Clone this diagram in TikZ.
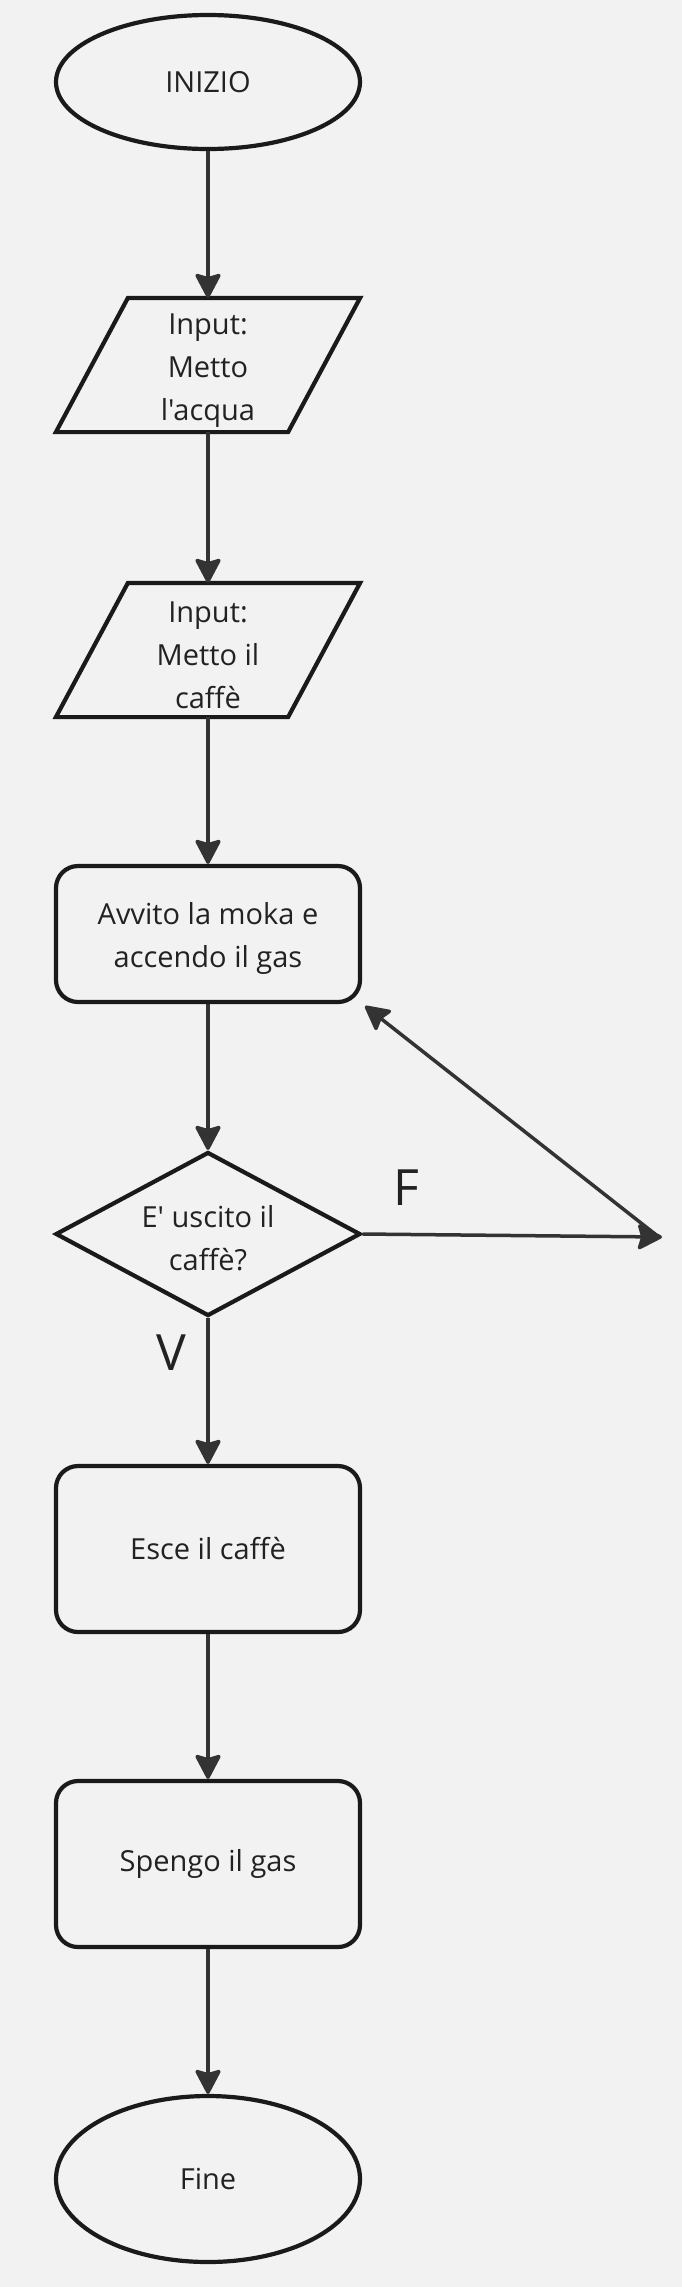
\documentclass[tikz,border=0pt]{standalone}
\usepackage{fontspec}
\newfontfamily\osans{Open Sans}
\usetikzlibrary{shapes.geometric,arrows.meta}
\definecolor{bg}{HTML}{F2F2F2}
\definecolor{edgec}{HTML}{1A1A1A}
\definecolor{connc}{HTML}{333333}
\definecolor{txt}{HTML}{222222}
\newcommand\tstr{\rule{0pt}{31pt}}
\begin{document}
\begin{tikzpicture}[x=1pt,y=1pt,
  box/.style={draw=edgec, line width=4.2pt, text=txt, font=\osans\fontsize{29}{43}\selectfont, align=center, inner sep=0pt},
  border/.style={draw=edgec, line width=4.2pt, line join=miter},
  term/.style={box, ellipse, minimum width=304pt, minimum height=134pt},
  io/.style={box, draw=none, rectangle, minimum width=228pt, minimum height=130pt},
  proc/.style={box, rectangle, rounded corners=22pt, minimum width=304pt},
  dec/.style={box, diamond, aspect=1.83, minimum width=305pt, minimum height=164pt},
  flow/.style={draw=connc, line width=3.5pt, -{Stealth[length=27pt,width=28pt,inset=4pt,round]}},
  lbl/.style={text=txt, font=\osans\fontsize{50}{60}\selectfont, inner sep=0pt}
]
\fill[bg] (0,0) rectangle (682,-2287);
\useasboundingbox (0,0) rectangle (682,-2287);

\node[term] (start) at (208,-82) {INIZIO};
\node[io] (in1) at (208,-365) {\tstr Input:\\Metto\\l'acqua};
\node[io] (in2) at (208,-650) {\tstr Input:\\Metto il\\caffè};
\node[proc, minimum height=136pt] (p1) at (208,-934) {\tstr Avvito la moka e\\accendo il gas};
\node[dec] (d) at (208,-1234) {\tstr E' uscito il\\caffè?};
\node[proc, minimum height=166pt] (p2) at (208,-1549) {Esce il caffè};
\node[proc, minimum height=166pt] (p3) at (208,-1864) {Spengo il gas};
\node[term, minimum height=166pt] (end) at (208,-2179) {Fine};

\draw[border] ([xshift=36pt]in1.north west) -- ([xshift=36pt]in1.north east) -- ([xshift=-36pt]in1.south east) -- ([xshift=-36pt]in1.south west) -- cycle;
\draw[border] ([xshift=36pt]in2.north west) -- ([xshift=36pt]in2.north east) -- ([xshift=-36pt]in2.south east) -- ([xshift=-36pt]in2.south west) -- cycle;

\node[lbl] (F) at (406,-1188) {F};
\node[lbl] (V) at (171,-1353) {V};

\coordinate (fend) at (662,-1237);
\coordinate (dstart) at (655,-1234);

\draw[flow] (start.south) -- (in1.north);
\draw[flow] (in1.south) -- (in2.north);
\draw[flow] (in2.south) -- (p1.north);
\draw[flow] (p1.south) -- (d.north);
\draw[flow] (d.south) -- (p2.north);
\draw[flow] (p2.south) -- (p3.north);
\draw[flow] (p3.south) -- (end.north);
\draw[flow] (d.east) -- (fend);
\draw[flow] (dstart) -- ([shift={(3,-2)}]p1.south east);
\end{tikzpicture}
\end{document}
